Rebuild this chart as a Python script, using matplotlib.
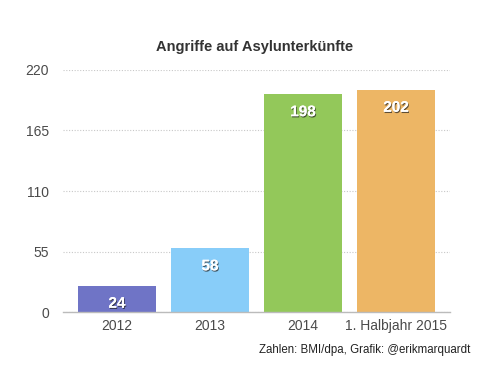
import matplotlib
matplotlib.use("Agg")
import matplotlib.pyplot as plt
import matplotlib.patheffects as pe
import numpy as np

categories = ["2012", "2013", "2014", "1. Halbjahr 2015"]
values = [24, 58, 198, 202]
colors = ["#6f74c6", "#88cdf9", "#93c85a", "#edb665"]
yticks = [0, 55, 110, 165, 220]

plt.rcParams['font.family'] = ['Liberation Sans', 'DejaVu Sans']

fig = plt.figure(figsize=(5, 3.82), dpi=100)
ax = fig.add_axes([0.126, 0.183, 0.774, 0.634])

x = np.arange(len(categories))
bars = ax.bar(x, values, width=0.84, color=colors, zorder=3)

# white value labels with a small drop shadow
shadow = [pe.withSimplePatchShadow(offset=(0.6, -0.9), shadow_rgbFace="#222222", alpha=0.7), pe.Normal()]
for rect, v in zip(bars, values):
    ax.annotate(str(v), (rect.get_x() + rect.get_width() / 2, v),
                xytext=(0, -13), textcoords="offset points", ha="center", va="center",
                fontsize=11, fontweight="bold", color="white", zorder=4,
                path_effects=shadow)

ax.set_xlim(-0.58, 3.58)
ax.set_ylim(0, 220)
ax.set_yticks(yticks)
ax.set_xticks(x)
ax.set_xticklabels(categories)
ax.tick_params(axis="both", length=0, labelsize=10, labelcolor="#4a4a4a")
ax.tick_params(axis="y", pad=10)
ax.tick_params(axis="x", pad=5)

ax.grid(axis="y", linestyle=(0, (1, 1.5)), color="#c8c8c8", linewidth=0.8, zorder=0)
for s in ["top", "right", "left"]:
    ax.spines[s].set_visible(False)
ax.spines["bottom"].set_color("#bbbbbb")
ax.spines["bottom"].set_linewidth(1.0)
ax.spines["bottom"].set_zorder(5)

fig.text(0.51, 0.877, "Angriffe auf Asylunterkünfte", ha="center", va="center",
         fontsize=10.5, fontweight="bold", color="#333333")
fig.text(0.94, 0.083, "Zahlen: BMI/dpa, Grafik: @erikmarquardt", ha="right", va="center",
         fontsize=8.3, color="#222222")

fig.savefig("out.png", dpi=100)
